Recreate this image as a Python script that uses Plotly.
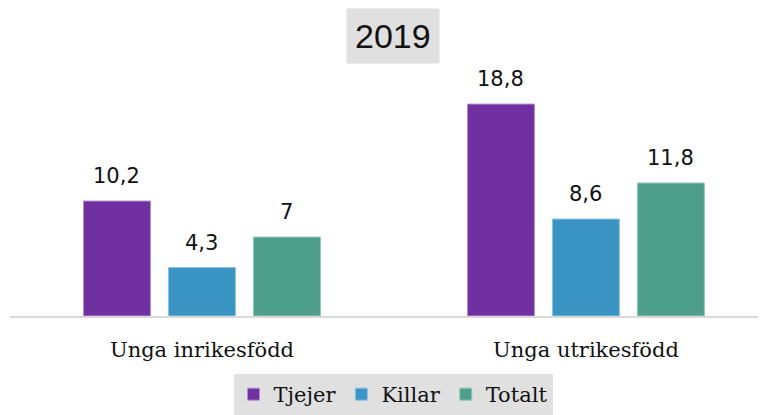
import plotly.graph_objects as go

categories = ["Unga inrikesfödd", "Unga utrikesfödd"]
series_names = ["Tjejer", "Killar", "Totalt"]
tjejer = [10.2, 18.8]
killar = [4.3, 8.6]
totalt = [7, 11.8]
title_text = "2019"

values = [tjejer, killar, totalt]
colors = ["#7030a0", "#3b95c4", "#4d9e8a"]
edge = ["#b48fd0", "#8cc4e2", "#93c8ba"]

fig = go.Figure()
for name, vals, c, e in zip(series_names, values, colors, edge):
    fig.add_trace(go.Bar(name=name, x=categories, y=vals, marker=dict(color=c, line=dict(color=e, width=1))))

def fmt(v):
    s = ("%g" % v).replace(".", ",")
    return s

shifts = [-85, 0, 85]
for vals, sh in zip(values, shifts):
    for cat, v in zip(categories, vals):
        fig.add_annotation(x=cat, y=v, xref="x", yref="y", text=fmt(v), showarrow=False,
                           xshift=sh, yshift=11, yanchor="bottom",
                           font=dict(family="DejaVu Sans", size=21, color="#111"))

fig.add_annotation(x=(393 - 10) / 756, y=(316 - 36) / 248, xref="paper", yref="paper", text=title_text, showarrow=False,
                   bgcolor="#e0e0e0", borderpad=8, xanchor="center", yanchor="middle",
                   font=dict(family="Liberation Sans", size=34, color="#111"))

fig.update_layout(
    width=758, height=407,
    margin=dict(l=2, r=0, t=60, b=99, autoexpand=False),
    paper_bgcolor="white", plot_bgcolor="white",
    barmode="group", bargap=0.336, bargroupgap=0.212,
    showlegend=True,
    legend=dict(orientation="h", xref="container", yref="container", x=385/758, xanchor="center",
                y=0, yanchor="bottom", bgcolor="#e0e0e0",
                font=dict(family="DejaVu Serif", size=21, color="#111"),
                itemwidth=30, tracegroupgap=0),
    xaxis=dict(range=[-0.5, 1.469], showline=True, linecolor="#d9d9d9", linewidth=2,
               ticks="outside", ticklen=14, tickcolor="rgba(0,0,0,0)",
               tickfont=dict(family="DejaVu Serif", size=21, color="#111"), showgrid=False),
    yaxis=dict(range=[0, 22], visible=False, showgrid=False),
)

fig.write_html("out.html")
